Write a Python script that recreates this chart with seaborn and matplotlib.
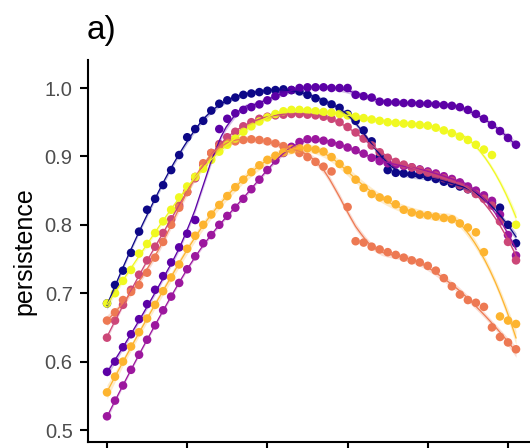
import numpy as np
import pandas as pd
import matplotlib
matplotlib.use("Agg")
import matplotlib.pyplot as plt
import seaborn as sns

# x positions (one point per step)
step = list(range(52))
nan = np.nan

navy = [0.685, 0.712, 0.733, 0.759, 0.790, 0.822, 0.838, 0.858, 0.880, 0.902,
        0.928, 0.940, 0.952, 0.967, 0.977, 0.982, 0.986, 0.990, 0.992, 0.994,
        0.996, 0.997, 0.998, 0.997, 0.995, 0.990, 0.985, 0.980, 0.976, 0.971,
        0.962, 0.952, 0.938, 0.922, 0.900, 0.880, 0.876, 0.875, 0.874, 0.873,
        0.870, 0.867, 0.863, 0.860, 0.856, 0.852, 0.846, 0.840, 0.832, 0.825,
        0.800, 0.773]
violet = [0.585, 0.600, 0.621, 0.640, 0.662, 0.684, 0.705, 0.725, 0.745, 0.767,
          0.787, 0.807, nan, nan, 0.940, 0.955, 0.963, 0.968, 0.972, 0.976,
          0.982, 0.988, 0.993, 0.997, 1.000, 1.001, 1.001, 1.001, 1.000, 1.000,
          1.000, 0.990, 0.988, 0.986, 0.980, 0.979, 0.979, 0.978, 0.978, 0.977,
          0.977, 0.976, 0.975, 0.974, 0.972, 0.968, 0.962, 0.955, 0.946, 0.937,
          0.927, 0.917]
magenta = [0.520, 0.543, 0.565, 0.588, 0.610, 0.632, 0.653, 0.675, 0.695, 0.715,
           0.735, 0.754, 0.773, 0.785, 0.800, 0.813, 0.825, 0.838, 0.852, 0.866,
           0.880, 0.894, 0.905, 0.914, 0.921, 0.925, 0.925, 0.923, 0.920, 0.917,
           0.913, 0.909, 0.904, 0.898, 0.893, 0.890, 0.888, 0.886, 0.884, 0.881,
           0.878, 0.875, 0.871, 0.867, 0.862, 0.856, 0.850, 0.843, 0.835, 0.815,
           0.785, 0.755]
pink = [0.635, 0.660, 0.683, 0.705, 0.727, 0.748, 0.768, 0.788, 0.808, 0.828,
        0.848, 0.868, 0.888, 0.905, 0.918, 0.928, 0.936, 0.944, 0.950, 0.955,
        0.958, 0.960, 0.961, 0.962, 0.962, 0.961, 0.960, 0.958, 0.955, 0.950,
        0.943, 0.935, 0.926, 0.916, 0.906, 0.898, 0.892, 0.888, 0.884, 0.880,
        0.876, 0.872, 0.868, 0.864, 0.858, 0.852, 0.845, 0.838, 0.828, 0.805,
        0.775, 0.748]
coral = [0.660, 0.672, 0.690, 0.702, 0.712, 0.730, 0.752, 0.775, 0.800, 0.825,
         0.848, 0.870, 0.890, 0.905, 0.915, 0.920, 0.922, 0.924, 0.925, 0.924,
         0.922, 0.919, 0.915, 0.911, 0.905, 0.899, 0.892, 0.885, 0.878, nan,
         0.826, 0.776, 0.774, 0.768, 0.764, 0.760, 0.756, 0.752, 0.748, 0.745,
         0.740, 0.733, 0.722, 0.710, 0.698, 0.690, 0.686, 0.680, 0.650, 0.636,
         0.628, 0.618]
orange = [0.555, 0.578, 0.600, 0.622, 0.643, 0.663, 0.683, 0.703, 0.723, 0.742,
          0.765, 0.784, 0.800, 0.815, 0.829, 0.842, 0.855, 0.866, 0.877, 0.887,
          0.895, 0.901, 0.906, 0.910, 0.912, 0.912, 0.910, 0.907, 0.899, 0.889,
          0.880, 0.866, 0.854, 0.845, 0.840, 0.837, 0.830, 0.822, 0.818, 0.815,
          0.814, 0.812, 0.810, 0.808, 0.802, 0.796, 0.789, 0.760, nan, 0.666,
          0.660, 0.655]
yellow = [0.685, 0.700, 0.718, 0.734, 0.758, 0.772, 0.788, 0.805, 0.822, 0.840,
          0.856, 0.870, 0.882, 0.895, 0.907, 0.917, 0.926, 0.936, 0.944, 0.951,
          0.957, 0.962, 0.966, 0.968, 0.968, 0.967, 0.966, 0.965, 0.964, 0.962,
          0.960, 0.958, 0.956, 0.954, 0.952, 0.950, 0.949, 0.948, 0.947, 0.946,
          0.945, 0.942, 0.938, 0.934, 0.929, 0.924, 0.917, 0.910, 0.902, nan,
          nan, 0.800]

series = {"navy": navy, "violet": violet, "magenta": magenta, "pink": pink,
          "coral": coral, "orange": orange, "yellow": yellow}
names = list(series)

xticks = [0, 10, 20, 30, 40, 50]
yticks = [0.5, 0.6, 0.7, 0.8, 0.9, 1.0]

# plasma colours, one per series
cmap = sns.color_palette("plasma", as_cmap=True)
colors = [cmap(v) for v in np.linspace(0, 1, len(names))]
palette = dict(zip(names, colors))

df = pd.DataFrame({name: vals for name, vals in series.items()})
df["step"] = step
df = df.melt(id_vars="step", var_name="group", value_name="persistence").dropna()


def loess(x, y, grid, span=0.3):
    # local quadratic fit with tricube weights (like geom_smooth's loess)
    n = len(x)
    k = int(np.ceil(span * n))

    def hat_rows(points):
        rows = []
        for g in points:
            d = np.abs(x - g)
            h = np.sort(d)[k - 1] * 1.0001
            w = np.clip(1 - (d / h) ** 3, 0, None) ** 3
            X = np.column_stack([np.ones(n), x - g, (x - g) ** 2])
            A = X.T @ (w[:, None] * X)
            rows.append(np.linalg.solve(A, (X * w[:, None]).T)[0])
        return np.array(rows)

    L_data = hat_rows(x)
    resid = y - L_data @ y
    sigma = np.sqrt(np.sum(resid ** 2) / max(n - np.trace(L_data), 1))
    L = hat_rows(grid)
    fit = L @ y
    se = sigma * np.sqrt(np.sum(L ** 2, axis=1))
    return fit, se


plt.rcParams['font.family'] = ['Liberation Sans', 'DejaVu Sans']

fig = plt.figure(figsize=(5.3, 4.48), dpi=100)
ax = fig.add_axes([88 / 530, 6 / 448, 442 / 530, 382 / 448])

sns.scatterplot(data=df, x="step", y="persistence", hue="group", palette=palette,
                s=38, linewidth=0, legend=False, ax=ax, zorder=2)

for name in names:
    sub = df[df["group"] == name]
    x = sub["step"].to_numpy(float)
    y = sub["persistence"].to_numpy(float)
    grid = np.linspace(x.min(), x.max(), 80)
    fit, se = loess(x, y, grid)
    ax.fill_between(grid, fit - 1.96 * se, fit + 1.96 * se, color=palette[name],
                    alpha=0.25, linewidth=0, zorder=3)
    ax.plot(grid, fit, color=palette[name], linewidth=0.9, zorder=4)

ax.set_xlim(-19 / 8.02, 423 / 8.02)
ax.set_ylim(0.5 - 12 / 684, 1.0 + 28 / 684)
ax.set_xticks(xticks)
ax.set_xticklabels([])
ax.set_yticks(yticks)
ax.set_yticklabels([f"{v:.1f}" for v in yticks])
ax.set_xlabel("")
ax.set_ylabel("persistence", fontsize=18)
ax.yaxis.set_label_coords(-52 / 442, 0.5)

sns.despine(ax=ax)
for side in ["left", "bottom"]:
    ax.spines[side].set_linewidth(1.5)
ax.tick_params(axis="both", direction="out", length=5.5, width=1.5,
               labelsize=14.5, labelcolor="#4d4d4d", pad=5.5)

fig.text(87 / 530, 1 - 39 / 448, "a)", fontsize=24, ha="left", va="baseline")

fig.savefig("out.png", dpi=100)
plt.close(fig)
